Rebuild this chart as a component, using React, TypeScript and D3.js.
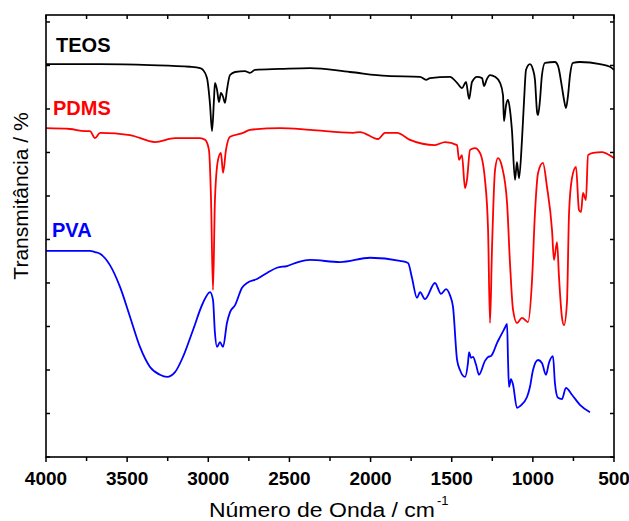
import React from "react";
import * as d3 from "d3";

const xTicks = [4000, 3500, 3000, 2500, 2000, 1500, 1000, 500];
const xMinorTicks = [3750, 3250, 2750, 2250, 1750, 1250, 750];
const yTicks = [0, 10, 20, 30, 40, 50, 60, 70, 80, 90, 100];

const teos: [number, number][] = [
  [4000, 90.3], [3667, 90.3], [3359, 90.1], [3113, 89.7], [3051, 89.4], [3033, 89.0], [3008, 87.1],
  [2989, 80.9], [2977, 74.9], [2965, 82.1], [2959, 86.0], [2946, 84.4], [2934, 81.6], [2922, 83.7],
  [2909, 82.8], [2897, 81.4], [2885, 84.4], [2866, 87.8], [2835, 88.5], [2774, 88.7], [2743, 88.3],
  [2712, 89.0], [2558, 89.2], [2373, 89.4], [2127, 88.5], [1899, 87.6], [1695, 87.4], [1658, 86.7],
  [1634, 87.1], [1511, 87.4], [1467, 86.0], [1437, 84.8], [1412, 86.2], [1393, 82.3], [1375, 86.2],
  [1344, 87.4], [1313, 87.1], [1301, 85.3], [1283, 86.9], [1264, 87.8], [1233, 87.4], [1202, 86.0],
  [1184, 83.2], [1178, 77.2], [1165, 80.9], [1153, 82.1], [1141, 79.8], [1129, 75.2], [1110, 63.7],
  [1098, 67.8], [1085, 64.1], [1067, 72.9], [1054, 82.1], [1042, 89.0], [1018, 90.3], [999, 89.0],
  [987, 86.7], [974, 79.3], [968, 78.6], [956, 82.1], [944, 87.8], [925, 90.6], [864, 90.8],
  [845, 89.9], [821, 85.1], [808, 82.1], [796, 80.2], [783, 83.2], [771, 87.8], [753, 90.6],
  [710, 90.8], [586, 90.3], [525, 89.7], [500, 89.0],
];

const pdms: [number, number][] = [
  [4000, 75.6], [3852, 75.4], [3760, 74.9], [3729, 74.9], [3698, 73.3], [3667, 74.5], [3482, 74.0],
  [3328, 72.4], [3205, 73.3], [3051, 73.3], [3020, 72.9], [2996, 70.6], [2983, 59.1], [2971, 38.4],
  [2959, 59.1], [2940, 68.3], [2922, 69.9], [2909, 65.3], [2891, 70.6], [2866, 73.6], [2786, 74.5],
  [2743, 75.2], [2558, 75.6], [2373, 75.2], [2108, 74.5], [2065, 74.7], [1954, 73.1], [1911, 74.5],
  [1837, 74.5], [1757, 72.9], [1603, 71.7], [1541, 72.4], [1467, 71.7], [1455, 68.3], [1437, 69.4],
  [1418, 61.8], [1406, 63.7], [1387, 70.6], [1357, 71.0], [1326, 69.9], [1295, 63.7], [1276, 52.2],
  [1264, 30.8], [1252, 47.6], [1233, 66.0], [1215, 68.7], [1190, 66.7], [1159, 58.4], [1141, 44.6],
  [1122, 33.8], [1098, 30.8], [1067, 32.0], [1030, 31.0], [1005, 40.7], [987, 56.1], [968, 65.3],
  [938, 67.6], [913, 62.1], [882, 52.2], [870, 45.3], [851, 49.4], [839, 41.4], [821, 32.2],
  [808, 30.3], [790, 35.4], [777, 56.1], [759, 64.1], [734, 66.7], [716, 56.8], [703, 56.3],
  [691, 60.7], [673, 59.1], [660, 69.4], [629, 69.9], [574, 70.1], [512, 69.0], [500, 68.7],
];

const pva: [number, number][] = [
  [4000, 47.4], [3729, 47.4], [3698, 47.1], [3667, 46.7], [3606, 44.1], [3544, 39.1], [3482, 32.2],
  [3421, 25.3], [3359, 20.7], [3298, 18.9], [3254, 18.4], [3205, 19.5], [3156, 23.0], [3094, 29.2],
  [3033, 35.4], [2989, 37.9], [2971, 36.1], [2959, 28.5], [2946, 25.3], [2928, 26.4], [2909, 25.3],
  [2885, 30.8], [2866, 33.3], [2835, 34.9], [2792, 38.9], [2761, 40.0], [2700, 40.9], [2638, 42.3],
  [2577, 43.5], [2515, 43.9], [2447, 44.8], [2373, 45.3], [2188, 44.8], [2003, 45.8], [1819, 45.1],
  [1769, 44.6], [1745, 41.2], [1714, 36.6], [1695, 37.9], [1665, 36.3], [1603, 40.0], [1566, 37.5],
  [1535, 38.6], [1511, 37.2], [1492, 34.5], [1467, 22.3], [1449, 20.0], [1418, 18.4], [1400, 21.6],
  [1393, 24.1], [1381, 22.8], [1369, 23.0], [1350, 21.2], [1332, 18.9], [1295, 22.1], [1276, 23.0],
  [1258, 23.2], [1246, 23.9], [1221, 26.2], [1202, 27.6], [1172, 29.7], [1159, 30.6], [1153, 22.3],
  [1147, 16.1], [1135, 17.9], [1122, 16.6], [1098, 11.3], [1079, 11.7], [1036, 13.8], [1018, 16.1],
  [999, 20.0], [968, 22.3], [944, 21.6], [919, 18.9], [901, 21.6], [876, 23.2], [864, 17.0],
  [845, 13.6], [821, 13.3], [796, 15.9], [759, 14.3], [710, 12.0], [648, 10.3],
];

const seriesNames = ["TEOS", "PDMS", "PVA"];
const seriesColors = ["#000000", "#ff0000", "#0000ff"];
const seriesData = [teos, pdms, pva];
const labelPos: [number, number][] = [[3938, 93.1], [3957, 78.6], [3963, 50.6]];

export default function App() {
  const W = 629, H = 521;
  const left = 46, right = 614, top = 15, bottom = 457;
  const x = d3.scaleLinear().domain([4000, 500]).range([left, right]);
  const y = d3.scaleLinear().domain([0, 101.6]).range([bottom, top]);
  const line = d3
    .line<[number, number]>()
    .x((d) => x(d[0]))
    .y((d) => y(d[1]))
    .curve(d3.curveMonotoneX);
  const font = "Arial, 'Liberation Sans', Helvetica, sans-serif";
  return (
    <svg
      width={W}
      height={H}
      style={{ position: "absolute", left: 0, top: 0, background: "#fff" }}
      fontFamily={font}
    >
      <rect x={0} y={0} width={W} height={H} fill="#fff" />
      {seriesData.map((d, i) => (
        <path key={i} d={line(d) || ""} fill="none" stroke={seriesColors[i]} strokeWidth={1.8} strokeLinejoin="round" />
      ))}
      {seriesNames.map((n, i) => (
        <text key={n} x={x(labelPos[i][0])} y={y(labelPos[i][1])} fill={seriesColors[i]} fontWeight="bold" fontSize={20}>
          {n}
        </text>
      ))}
      <rect x={left} y={top} width={right - left} height={bottom - top} fill="none" stroke="#000" strokeWidth={1.6} />
      {xTicks.map((t) => (
        <g key={"xt" + t}>
          <line x1={x(t)} x2={x(t)} y1={bottom} y2={bottom + 5} stroke="#000" strokeWidth={1.5} />
          <line x1={x(t)} x2={x(t)} y1={top} y2={top + 4} stroke="#000" strokeWidth={1.5} />
          <text x={x(t)} y={485} textAnchor="middle" fontWeight="bold" fontSize={19} fill="#000">
            {t}
          </text>
        </g>
      ))}
      {xMinorTicks.map((t) => (
        <g key={"xm" + t}>
          <line x1={x(t)} x2={x(t)} y1={bottom} y2={bottom + 4} stroke="#000" strokeWidth={1.5} />
          <line x1={x(t)} x2={x(t)} y1={top} y2={top + 4} stroke="#000" strokeWidth={1.5} />
        </g>
      ))}
      {yTicks.map((t) => (
        <g key={"yt" + t}>
          <line x1={left} x2={left + 4} y1={y(t)} y2={y(t)} stroke="#000" strokeWidth={1.5} />
          <line x1={right - 4} x2={right} y1={y(t)} y2={y(t)} stroke="#000" strokeWidth={1.5} />
        </g>
      ))}
      <text x={209} y={517} fontSize={20} fill="#000" textLength={226} lengthAdjust="spacingAndGlyphs">
        Número de Onda / cm
      </text>
      <text x={437} y={505} fontSize={13} fill="#000">
        -1
      </text>
      <text
        transform="translate(28,196) rotate(-90)"
        textAnchor="middle"
        fontSize={21}
        fill="#000"
      >
        Transmitância / %
      </text>
    </svg>
  );
}
